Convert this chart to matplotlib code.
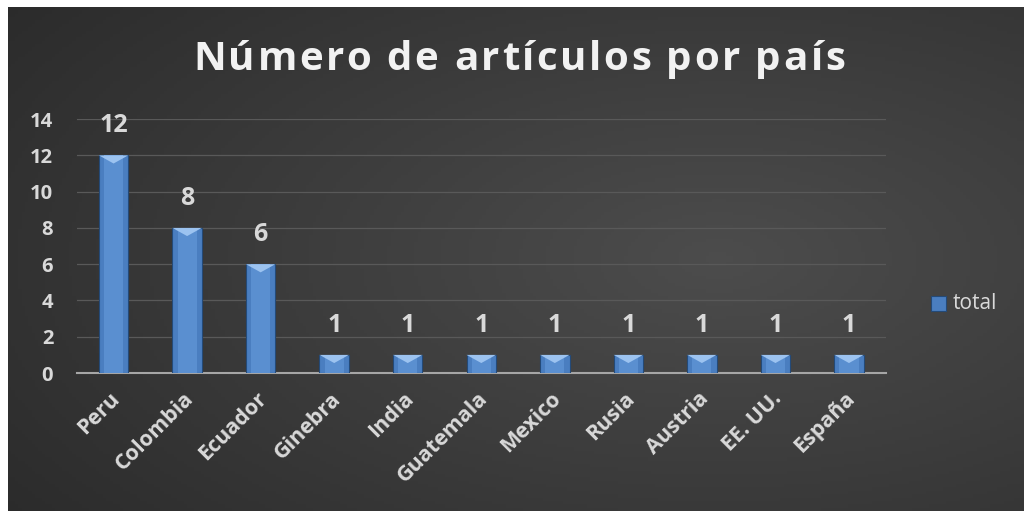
import numpy as np
import matplotlib.pyplot as plt
import matplotlib.transforms as mtransforms
from matplotlib.patches import Rectangle, Polygon

paises = ['Peru', 'Colombia', 'Ecuador', 'Ginebra', 'India', 'Guatemala',
          'Mexico', 'Rusia', 'Austria', 'EE. UU.', 'España']
total = [12, 8, 6, 1, 1, 1, 1, 1, 1, 1, 1]

plt.rcParams['font.family'] = ['Open Sans', 'DejaVu Sans']
txt = '#d9d9d9'

fig = plt.figure(figsize=(10.24, 5.11), dpi=100)
fig.patch.set_facecolor('white')

# fondo degradado oscuro
bg = fig.add_axes([0.008, 0, 0.992, 0.986])
xx, yy = np.meshgrid(np.linspace(0, 1, 300), np.linspace(0, 1, 150))
d = np.sqrt((xx - 0.7) ** 2 + (yy - 0.5) ** 2)
g = np.clip(0.30 - 0.15 * d, 0, 1)
bg.imshow(np.dstack([g, g, g]), aspect='auto', extent=[0, 1, 0, 1], origin='lower')
bg.set_axis_off()

ax = fig.add_axes([0.075, 0.27, 0.79, 0.497])
ax.set_facecolor('none')
x = np.arange(len(paises))
bars = ax.bar(x, total, width=0.4, color='#4a7ec0', edgecolor='#244a78', linewidth=0.8, zorder=3)
ax.bar(x, total, width=0.26, color='#5a8fd0', linewidth=0, zorder=3)
for b in bars:
    x0, w, h = b.get_x(), b.get_width(), b.get_height()
    ax.add_patch(Polygon([(x0, h), (x0 + w, h), (x0 + w / 2, h - 0.45)],
                         closed=True, facecolor='#9cc3f0', edgecolor='none', zorder=4))
for xi, v in zip(x, total):
    ax.text(xi, v + 0.95, str(v), ha='center', va='bottom', color=txt,
            fontsize=18, fontweight='bold')

ax.set_ylim(0, 14)
ax.set_xlim(-0.5, len(paises) - 0.5)
ax.set_yticks(range(0, 15, 2))
ax.grid(axis='y', color='#595959', linewidth=0.9, zorder=0)
ax.tick_params(axis='y', length=0, colors=txt, labelsize=14.5, pad=17)
ax.tick_params(axis='x', length=0, colors=txt, labelsize=15.5, pad=11)
for lab in ax.get_yticklabels():
    lab.set_fontweight('bold')
ax.set_xticks(x)
ax.set_xticklabels(paises, rotation=45, ha='right', rotation_mode='anchor', fontweight='bold')
desplaza = mtransforms.ScaledTranslation(-3 / 72, 0, fig.dpi_scale_trans)
for lab in ax.get_xticklabels():
    lab.set_transform(lab.get_transform() + desplaza)
for s in ['top', 'right', 'left']:
    ax.spines[s].set_visible(False)
ax.spines['bottom'].set_color('#a6a6a6')
ax.spines['bottom'].set_linewidth(1.5)

# título con espaciado entre letras
titulo = 'Número de artículos por país'
fig.canvas.draw()
r = fig.canvas.get_renderer()
pieces = []
for ch in titulo:
    t = fig.text(0, 1 - 70 / 511, ch, ha='left', va='baseline', color='#f2f2f2',
                 fontsize=29, fontweight='bold')
    pieces.append((t, t.get_window_extent(r).width if ch != ' ' else 10))
ancho_obj = 652
base = sum(w for _, w in pieces)
esp = (ancho_obj - base) / (len(pieces) - 1)
xpos = 193
for t, w in pieces:
    t.set_x(xpos / fig.bbox.width)
    xpos += w + esp

# leyenda
fig.patches.append(Rectangle((0.909, 0.392), 0.015, 0.028, transform=fig.transFigure,
                             facecolor='#4a7ec0', edgecolor='#244a78', linewidth=0.8))
fig.text(0.93, 0.407, 'total', ha='left', va='center', color=txt, fontsize=15)

fig.savefig('out.png', dpi=100)
